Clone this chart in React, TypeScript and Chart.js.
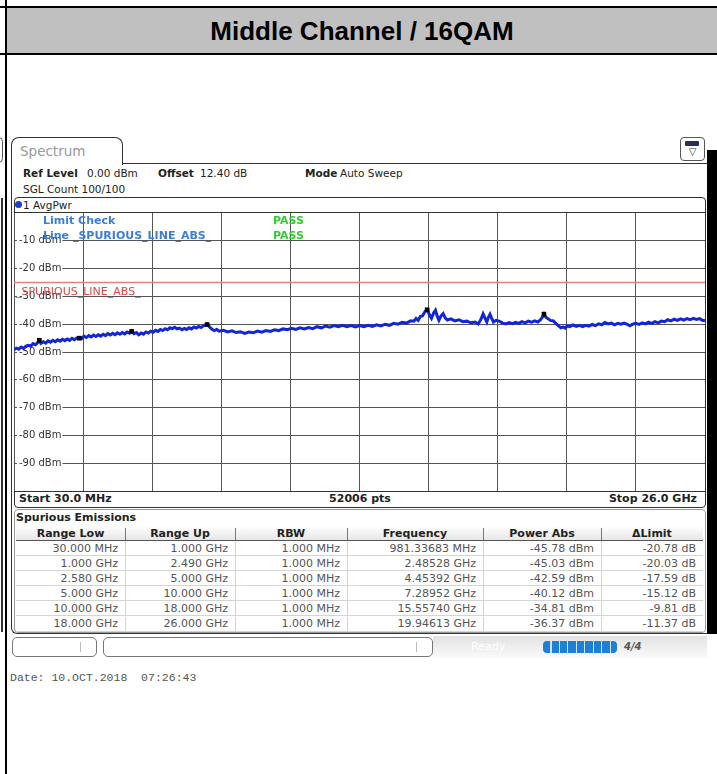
import React, { useEffect, useRef } from 'react';
import { Chart, registerables } from 'chart.js';
Chart.register(...registerables);

const TITLE = 'Middle Channel / 16QAM';

// Trace: [frequency GHz, level dBm]
const TRACE_POINTS: [number, number][] = [
  [0.03, -49.2], [0.12, -48.6], [0.21, -49.0], [0.30, -48.2], [0.39, -48.7], [0.48, -47.9], [0.57, -47.6], [0.66, -47.9],
  [0.75, -47.0], [0.84, -47.4], [0.93, -46.5], [0.98, -45.8], [1.04, -46.9], [1.13, -46.3], [1.22, -46.8], [1.31, -46.0],
  [1.40, -46.5], [1.49, -45.8], [1.58, -46.3], [1.67, -45.6], [1.76, -46.1], [1.85, -45.4], [1.94, -45.9], [2.03, -45.3],
  [2.12, -45.8], [2.21, -45.1], [2.30, -45.6], [2.39, -44.9], [2.48, -44.8], [2.57, -45.2], [2.66, -44.3], [2.75, -44.8],
  [2.84, -44.1], [2.93, -44.6], [3.02, -43.9], [3.11, -44.4], [3.20, -43.8], [3.29, -44.3], [3.38, -43.6], [3.47, -44.1],
  [3.56, -43.4], [3.65, -43.9], [3.74, -43.3], [3.83, -43.8], [3.92, -43.1], [4.01, -43.6], [4.10, -43.0], [4.19, -43.5],
  [4.28, -42.8], [4.37, -43.2], [4.45, -42.5], [4.54, -43.4], [4.63, -43.0], [4.72, -43.8], [4.81, -43.2], [4.90, -43.6],
  [4.99, -42.8], [5.08, -43.2], [5.17, -42.5], [5.26, -42.9], [5.35, -42.2], [5.44, -42.6], [5.53, -41.9], [5.62, -42.3],
  [5.71, -41.6], [5.80, -42.0], [5.89, -41.3], [5.98, -41.6], [6.07, -41.1], [6.16, -41.7], [6.25, -41.4], [6.34, -42.0],
  [6.43, -41.5], [6.52, -41.9], [6.61, -41.3], [6.70, -41.7], [6.79, -41.0], [6.88, -41.4], [6.97, -40.8], [7.06, -41.2],
  [7.15, -40.6], [7.29, -40.0], [7.38, -41.0], [7.47, -41.8], [7.56, -42.3], [7.65, -41.9], [7.74, -42.5], [7.90, -42.2],
  [8.06, -42.8], [8.22, -42.4], [8.38, -43.0], [8.54, -42.7], [8.70, -43.3], [8.86, -42.8], [9.02, -43.1], [9.18, -42.5],
  [9.34, -42.9], [9.50, -42.3], [9.66, -42.6], [9.82, -42.0], [9.98, -42.3], [10.14, -41.7], [10.30, -42.0], [10.46, -41.5],
  [10.62, -41.9], [10.78, -41.3], [10.94, -41.7], [11.10, -41.2], [11.26, -41.6], [11.42, -40.9], [11.58, -41.3], [11.74, -40.7],
  [11.90, -41.1], [12.06, -40.5], [12.22, -40.9], [12.38, -40.4], [12.54, -40.9], [12.70, -40.5], [12.86, -41.0], [13.02, -40.5],
  [13.18, -40.9], [13.34, -40.4], [13.50, -40.8], [13.66, -40.2], [13.82, -40.6], [13.98, -40.0], [14.14, -40.4], [14.30, -39.7],
  [14.46, -40.0], [14.62, -39.3], [14.78, -39.6], [14.94, -38.8], [15.06, -38.9], [15.14, -37.9], [15.22, -38.6], [15.30, -37.2],
  [15.38, -37.0], [15.48, -35.4], [15.56, -34.8], [15.64, -36.5], [15.72, -37.9], [15.80, -36.0], [15.87, -35.0], [15.94, -37.2],
  [16.00, -38.6], [16.08, -37.0], [16.16, -36.2], [16.24, -37.8], [16.32, -38.5], [16.45, -38.1], [16.60, -38.8], [16.75, -38.4],
  [16.90, -39.1], [17.05, -38.9], [17.20, -39.5], [17.35, -39.2], [17.48, -39.9], [17.58, -38.2], [17.66, -36.3], [17.74, -38.0],
  [17.80, -39.2], [17.86, -37.5], [17.92, -36.4], [17.98, -37.8], [18.05, -39.2], [18.15, -38.6], [18.28, -39.0], [18.40, -39.6],
  [18.52, -39.9], [18.64, -39.4], [18.76, -39.8], [18.88, -39.3], [19.00, -39.7], [19.12, -39.1], [19.24, -39.5], [19.36, -38.9],
  [19.48, -39.3], [19.60, -38.8], [19.72, -39.2], [19.82, -38.4], [19.90, -37.3], [19.95, -36.4], [20.02, -37.5], [20.10, -38.0],
  [20.20, -38.7], [20.30, -38.8], [20.40, -39.8], [20.50, -40.6], [20.58, -41.3], [20.66, -41.0], [20.74, -41.4], [20.82, -40.6],
  [20.92, -40.9], [21.04, -40.3], [21.16, -40.8], [21.28, -40.4], [21.40, -40.9], [21.52, -40.4], [21.64, -40.7], [21.76, -40.1],
  [21.88, -40.5], [22.00, -39.9], [22.12, -40.2], [22.24, -39.4], [22.36, -39.9], [22.48, -39.6], [22.60, -40.2], [22.72, -39.7],
  [22.84, -40.0], [22.96, -39.6], [23.08, -40.1], [23.18, -40.6], [23.28, -40.0], [23.40, -39.7], [23.52, -40.1], [23.64, -39.5],
  [23.76, -39.9], [23.88, -39.3], [24.00, -39.7], [24.12, -39.1], [24.24, -39.5], [24.36, -38.9], [24.48, -39.1], [24.60, -38.4],
  [24.72, -38.8], [24.84, -38.2], [24.96, -38.6], [25.08, -38.1], [25.20, -38.5], [25.32, -38.0], [25.44, -38.4], [25.56, -37.9],
  [25.68, -38.3], [25.80, -38.0], [25.90, -38.6], [26.00, -38.8],
];

const LIMIT_GHZ = [0.03, 26.0];
const LIMIT_DBM = [-25, -25];

const MARKER_GHZ = [0.98133683, 2.48528, 4.45392, 7.28952, 15.5574, 19.94613];
const MARKER_DBM = [-45.78, -45.03, -42.59, -40.12, -34.81, -36.37];

const X_GRID_GHZ = [0.03, 2.627, 5.224, 7.821, 10.418, 13.015, 15.612, 18.209, 20.806, 23.403, 26.0];
const Y_TICKS = [-10, -20, -30, -40, -50, -60, -70, -80, -90];
const Y_MIN = -100;
const Y_MAX = 0;

const COLUMNS = ['Range Low', 'Range Up', 'RBW', 'Frequency', 'Power Abs', '\u0394Limit'];
const RANGE_LOW = ['30.000 MHz', '1.000 GHz', '2.580 GHz', '5.000 GHz', '10.000 GHz', '18.000 GHz'];
const RANGE_UP = ['1.000 GHz', '2.490 GHz', '5.000 GHz', '10.000 GHz', '18.000 GHz', '26.000 GHz'];
const RBW = ['1.000 MHz', '1.000 MHz', '1.000 MHz', '1.000 MHz', '1.000 MHz', '1.000 MHz'];
const PEAK_FREQ = ['981.33683 MHz', '2.48528 GHz', '4.45392 GHz', '7.28952 GHz', '15.55740 GHz', '19.94613 GHz'];
const POWER_ABS = ['-45.78 dBm', '-45.03 dBm', '-42.59 dBm', '-40.12 dBm', '-34.81 dBm', '-36.37 dBm'];
const DELTA_LIMIT = ['-20.78 dB', '-20.03 dB', '-17.59 dB', '-15.12 dB', '-9.81 dB', '-11.37 dB'];

const UI = "'DejaVu Sans', Verdana, sans-serif";

function T(props: { x: number; y: number; text: string; style?: React.CSSProperties; align?: 'left' | 'right' | 'center' }) {
  const { x, y, text, style, align = 'left' } = props;
  const base: React.CSSProperties = {
    position: 'absolute',
    top: y - 8,
    lineHeight: '16px',
    whiteSpace: 'pre',
    fontFamily: UI,
    fontSize: 11,
    color: '#222',
  };
  if (align === 'left') base.left = x;
  else if (align === 'right') base.right = 717 - x;
  else { base.left = x - 200; base.width = 400; base.textAlign = 'center'; }
  return <div style={{ ...base, ...style }}>{text}</div>;
}

function Box(props: { style: React.CSSProperties }) {
  return <div style={{ position: 'absolute', boxSizing: 'border-box', ...props.style }} />;
}

export default function App() {
  const ref = useRef<HTMLCanvasElement>(null);

  useEffect(() => {
    document.body.style.margin = '0';
    const chart = new Chart(ref.current!, {
      type: 'line',
      data: {
        datasets: [
          {
            label: 'Markers',
            data: MARKER_GHZ.map((f, i) => ({ x: f, y: MARKER_DBM[i] })),
            showLine: false,
            pointStyle: 'rect',
            pointRadius: 3.3,
            pointBorderWidth: 0,
            pointBackgroundColor: '#000',
            borderColor: '#000',
          },
          {
            label: '1 AvgPwr',
            data: TRACE_POINTS.map(([f, v]) => ({ x: f, y: v })),
            borderColor: '#1226d6',
            borderWidth: 3,
            pointRadius: 0,
            tension: 0,
          },
          {
            label: '_SPURIOUS_LINE_ABS_',
            data: LIMIT_GHZ.map((f, i) => ({ x: f, y: LIMIT_DBM[i] })),
            borderColor: '#e48080',
            borderWidth: 1.5,
            pointRadius: 0,
          },
        ],
      },
      options: {
        animation: false,
        responsive: false,
        maintainAspectRatio: false,
        devicePixelRatio: 1,
        layout: { padding: 0, autoPadding: false },
        plugins: { legend: { display: false }, tooltip: { enabled: false } },
        scales: {
          x: {
            type: 'linear',
            min: 0.03,
            max: 26.0,
            afterBuildTicks: (s: any) => {
              s.ticks = X_GRID_GHZ.map((v) => ({ value: v }));
            },
            afterFit: (s: any) => {
              s.paddingLeft = 0;
              s.paddingRight = 0;
              s.height = 0;
            },
            ticks: { display: false },
            grid: { color: '#555', lineWidth: 1, drawTicks: false },
            border: { display: false },
          },
          y: {
            type: 'linear',
            min: Y_MIN,
            max: Y_MAX,
            afterBuildTicks: (s: any) => {
              s.ticks = Y_TICKS.map((v) => ({ value: v }));
            },
            afterFit: (s: any) => {
              s.paddingTop = 0;
              s.paddingBottom = 0;
              s.width = 0;
            },
            ticks: {
              mirror: true,
              padding: 5,
              color: '#333',
              font: { family: 'DejaVu Sans', size: 10 },
              callback: (v: any) => `${v} dBm`,
              showLabelBackdrop: true,
              backdropColor: '#ffffff',
              backdropPadding: { top: 0, bottom: 0, left: 2, right: 1 },
            } as any,
            grid: { color: '#555', lineWidth: 1, drawTicks: false },
            border: { display: false },
          },
        },
      },
    } as any);
    return () => chart.destroy();
  }, []);

  const colEdges = [16, 125, 235, 347, 483, 601, 703];
  const rowTop = 541;
  const rowH = 15.1;
  const rows = RANGE_LOW.map((_, i) => [RANGE_LOW[i], RANGE_UP[i], RBW[i], PEAK_FREQ[i], POWER_ABS[i], DELTA_LIMIT[i]]);

  return (
    <div style={{ position: 'absolute', left: 0, top: 0, width: 717, height: 774, background: '#fff', overflow: 'hidden' }}>
      {/* document frame */}
      <Box style={{ left: 7, top: 8, width: 710, height: 46, background: '#c0c0c0' }} />
      <Box style={{ left: 0, top: 6, width: 717, height: 2, background: '#000' }} />
      <Box style={{ left: 0, top: 53, width: 717, height: 2, background: '#000' }} />
      <Box style={{ left: 5, top: 0, width: 2, height: 774, background: '#000' }} />
      <div style={{ position: 'absolute', left: 7, top: 9, width: 710, height: 45, lineHeight: '45px', textAlign: 'center', fontFamily: "'Liberation Sans', Arial, sans-serif", fontWeight: 'bold', fontSize: 26, color: '#000' }}>{TITLE}</div>

      {/* left remnants of neighbour screenshot */}
      <Box style={{ left: -6, top: 137, width: 9, height: 26, border: '1px solid #555', borderRadius: 6 }} />
      <Box style={{ left: 1, top: 198, width: 2, height: 434, background: '#333' }} />

      {/* screenshot frame */}
      <Box style={{ left: 11, top: 137, width: 112, height: 28, border: '1.3px solid #333', borderBottom: 'none', borderRadius: '8px 8px 0 0', background: '#fff' }} />
      <Box style={{ left: 11, top: 150, width: 697, height: 484, borderLeft: '1.3px solid #333', borderBottom: '1.3px solid #333', borderBottomLeftRadius: 6 }} />
      <Box style={{ left: 122, top: 163, width: 586, height: 1.3, background: '#333' }} />
      <Box style={{ left: 707, top: 150, width: 10, height: 484, background: '#000' }} />
      <Box style={{ left: 680, top: 137, width: 25, height: 24, border: '1px solid #555', borderRadius: 4, background: '#fff' }} />
      <Box style={{ left: 685, top: 141, width: 14, height: 5, background: '#2a2f55', borderRadius: 1 }} />
      <div style={{ position: 'absolute', left: 680, top: 146, width: 25, textAlign: 'center', fontSize: 10, lineHeight: '12px', color: '#333', fontFamily: UI }}>{'\u25BD'}</div>
      <T x={20} y={151} text="Spectrum" style={{ fontSize: 13.5, color: '#999' }} />

      <T x={23} y={173} text="Ref Level" style={{ fontWeight: 'bold', fontSize: 10.5 }} />
      <T x={87} y={173} text="0.00 dBm" style={{ fontSize: 10.5 }} />
      <T x={158} y={173} text="Offset" style={{ fontWeight: 'bold', fontSize: 10.5 }} />
      <T x={200} y={173} text="12.40 dB" style={{ fontSize: 10.5 }} />
      <T x={305} y={173} text="Mode" style={{ fontWeight: 'bold', fontSize: 10.5 }} />
      <T x={340} y={173} text="Auto Sweep" style={{ fontSize: 10.5 }} />
      <T x={23} y={189} text="SGL Count 100/100" style={{ fontSize: 10.5 }} />

      {/* chart box */}
      <Box style={{ left: 14, top: 197, width: 692, height: 311, border: '1.3px solid #333', borderRadius: 4 }} />
      <div style={{ position: 'absolute', left: 15, top: 201, width: 7, height: 7, borderRadius: 4, background: '#1a3fd0' }} />
      <T x={23} y={205} text="1 AvgPwr" style={{ fontSize: 10.5 }} />
      <Box style={{ left: 14, top: 212, width: 692, height: 1, background: '#333' }} />

      <canvas ref={ref} width={691} height={278} style={{ position: 'absolute', left: 14, top: 213, width: 691, height: 278 }} />

      <Box style={{ left: 14, top: 491, width: 692, height: 1.3, background: '#333' }} />
      <T x={43} y={221} text="Limit Check" style={{ fontWeight: 'bold', color: '#3a7fd6' }} />
      <T x={273} y={221} text="PASS" style={{ fontWeight: 'bold', color: '#33cc33' }} />
      <T x={43} y={236} text="Line _SPURIOUS_LINE_ABS_" style={{ fontWeight: 'bold', color: '#3a7fd6' }} />
      <T x={273} y={236} text="PASS" style={{ fontWeight: 'bold', color: '#33cc33' }} />
      <T x={16} y={292} text="_SPURIOUS_LINE_ABS_" style={{ color: '#d84848' }} />

      <T x={19} y={499} text="Start 30.0 MHz" style={{ fontWeight: 'bold' }} />
      <T x={360} y={499} text="52006 pts" align="center" style={{ fontWeight: 'bold' }} />
      <T x={697} y={499} text="Stop 26.0 GHz" align="right" style={{ fontWeight: 'bold' }} />

      {/* table */}
      <Box style={{ left: 14, top: 509, width: 692, height: 124, border: '1px solid #999', borderRadius: 4 }} />
      <T x={16} y={518} text="Spurious Emissions" style={{ fontWeight: 'bold' }} />
      <Box style={{ left: 16, top: 526, width: 687, height: 15, background: 'linear-gradient(#ffffff, #e6e6e6)', borderBottom: '1.5px solid #555' }} />
      {COLUMNS.map((c, i) => (
        <React.Fragment key={c}>
          <T x={(colEdges[i] + colEdges[i + 1]) / 2} y={534} text={c} align="center" style={{ fontWeight: 'bold' }} />
          {i > 0 && <Box style={{ left: colEdges[i], top: 528, width: 1, height: 12, background: '#777' }} />}
        </React.Fragment>
      ))}
      {rows.map((r, ri) => (
        <React.Fragment key={ri}>
          <Box style={{ left: 16, top: rowTop + ri * rowH, width: 687, height: rowH, borderBottom: '1px solid #d4d4d4' }} />
          {r.map((cell, ci) => (
            <React.Fragment key={ci}>
              {ci > 0 && <Box style={{ left: colEdges[ci], top: rowTop + ri * rowH, width: 1, height: rowH, background: '#d4d4d4' }} />}
              <T x={colEdges[ci + 1] - 7} y={rowTop + ri * rowH + rowH / 2} text={cell} align="right" style={{ color: '#555' }} />
            </React.Fragment>
          ))}
        </React.Fragment>
      ))}

      {/* status bar */}
      <Box style={{ left: 433, top: 636, width: 274, height: 22, background: 'linear-gradient(#e2e2e2, #fafafa)' }} />
      <Box style={{ left: 12, top: 637, width: 85, height: 20, border: '1px solid #777', borderRadius: 5, background: '#fff' }} />
      <Box style={{ left: 80, top: 642, width: 1, height: 10, background: '#bbb' }} />
      <Box style={{ left: 103, top: 637, width: 330, height: 20, border: '1px solid #777', borderRadius: 5, background: '#fff' }} />
      <Box style={{ left: 416, top: 642, width: 1, height: 10, background: '#bbb' }} />
      <T x={471} y={647} text="Ready" style={{ color: '#fff', fontSize: 11 }} />
      <Box style={{ left: 543, top: 641, width: 74, height: 12, background: 'repeating-linear-gradient(90deg, #1e7fd6 0px, #1e7fd6 7px, #cfe3f7 7px, #cfe3f7 8.5px)', borderRadius: 4 }} />
      <T x={624} y={647} text="4/4" style={{ color: '#555', fontSize: 10, fontWeight: 'bold', fontStyle: 'italic' }} />

      <T x={10} y={678} text="Date: 10.OCT.2018  07:26:43" style={{ fontFamily: "'Liberation Mono', 'Courier New', monospace", fontSize: 11.5, color: '#555' }} />
    </div>
  );
}
